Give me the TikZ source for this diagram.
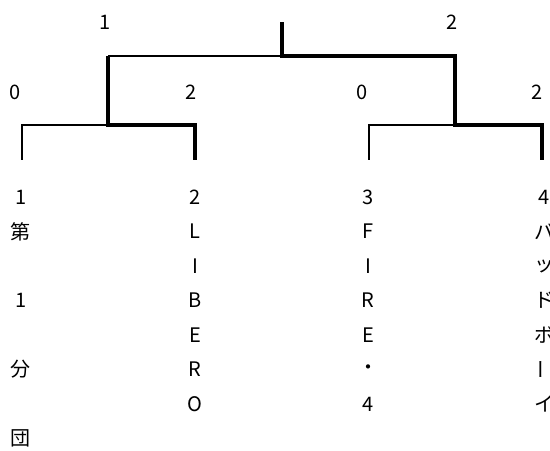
\documentclass[tikz,border=0pt]{standalone}
\usepackage{fontspec}
\setmainfont{Noto Sans CJK JP}
\usepackage{tikz}

\tikzset{
  win/.style={line width=3pt},
  lose/.style={line width=1.5pt},
  lbl/.style={inner sep=0.75pt, font=\fontsize{15}{17}\selectfont}
}

\begin{document}
\begin{tikzpicture}[x=0.75pt,y=0.75pt,yscale=-1,xscale=1]
\useasboundingbox (0,0) rectangle (550,450);

% bracket joints
\coordinate (top) at (282,22);
\coordinate (fin) at (282,56);
\coordinate (semiL) at (108,56);
\coordinate (semiR) at (455,56);
\coordinate (jL) at (108,125);
\coordinate (jR) at (455,125);
\coordinate (leafA) at (22,160);
\coordinate (leafB) at (195,160);
\coordinate (leafC) at (369,160);
\coordinate (leafD) at (542,160);

\draw[lose] (fin) -- (semiL);
\draw[lose] (jL) -| (leafA);
\draw[lose] (jR) -| (leafC);
\draw[win] (semiL) -- (jL) -| (leafB);
\draw[win] (top) -- (fin) -- (semiR) -- (jR) -| (leafD);

% scores
\node[lbl] (scL) at (105,22) {1};
\node[lbl] (scR) at (452,22) {2};
\node[lbl] (scA) at (15,92) {0};
\node[lbl] (scB) at (191,92) {2};
\node[lbl] (scC) at (362,92) {0};
\node[lbl] (scD) at (537,92) {2};

% team names, one character a line
\foreach \ch/\i in {1/0,第/1,1/3,分/5,団/7}
  \node[lbl] (teamA-\i) at (21,197+34.5*\i) {\ch};
\foreach \ch [count=\i from 0] in {2,L,I,B,E,R,O}
  \node[lbl] (teamB-\i) at (195,197+34.5*\i) {\ch};
\foreach \ch [count=\i from 0] in {3,F,I,R,E,・,4}
  \node[lbl] (teamC-\i) at (368,197+34.5*\i) {\ch};
\foreach \ch [count=\i from 0] in {4,バ,ッ,ド,ボ}
  \node[lbl] (teamD-\i) at (544,197+34.5*\i) {\ch};
\node[lbl, rotate=90] (teamD-5) at (544,197+34.5*5) {ー};
\node[lbl] (teamD-6) at (544,197+34.5*6) {イ};
\end{tikzpicture}
\end{document}
